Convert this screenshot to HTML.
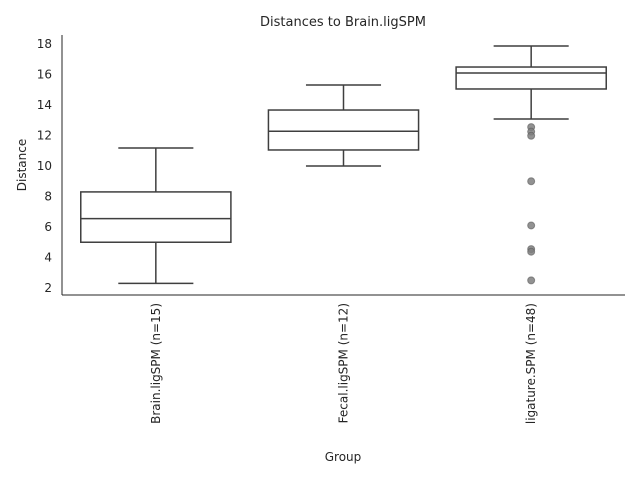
<!DOCTYPE html>
<html><head><meta charset="utf-8"><style>body{margin:0;background:#fff}svg{display:block;font-family:"DejaVu Sans","Liberation Sans",sans-serif}</style></head>
<body>
<svg id="chart" width="640" height="480" xmlns="http://www.w3.org/2000/svg"></svg>
<script>
const categories = ["Brain.ligSPM (n=15)", "Fecal.ligSPM (n=12)", "ligature.SPM (n=48)"];
const whiskerLow = [2.3, 10.0, 13.08];
const q1 = [5.0, 11.05, 15.05];
const median = [6.55, 12.28, 16.1];
const q3 = [8.3, 13.67, 16.49];
const whiskerHigh = [11.18, 15.31, 17.87];
const outliers = [[], [], [12.55, 12.25, 11.98, 9.0, 6.1, 4.55, 4.38, 2.5]];
const yTicks = [2, 4, 6, 8, 10, 12, 14, 16, 18];

const svg = document.getElementById('chart');
const NS = 'http://www.w3.org/2000/svg';
const pL = 62, pR = 625, pT = 35, pB = 295;
const yMin = 1.54, yMax = 18.59;
const y = v => pB - (v - yMin) / (yMax - yMin) * (pB - pT);
const band = (pR - pL) / categories.length;
const x = i => pL + band * (i + 0.5);
const boxW = band * 0.8;
function el(tag, attrs, text) {
  const e = document.createElementNS(NS, tag);
  for (const k in attrs) e.setAttribute(k, attrs[k]);
  if (text !== undefined) e.textContent = text;
  svg.appendChild(e);
  return e;
}
const c = '#3f3f3f';
let t = el('text', {x: 343, y: 26, 'text-anchor': 'middle', 'font-size': 13, fill: '#262626'}, 'Distances to Brain.ligSPM');


let a = el('line', {x1: pL, y1: pT, x2: pL, y2: pB, stroke: '#262626', 'stroke-width': 1});


a = el('line', {x1: pL, y1: pB, x2: pR, y2: pB, stroke: '#262626', 'stroke-width': 1});


yTicks.forEach(v => {
  const tk = el('text', {x: 52, y: y(v) + 4, 'text-anchor': 'end', 'font-size': 12, fill: '#262626'}, v);
  
  
});
t = el('text', {x: 0, y: 0, transform: 'translate(26,165) rotate(-90)', 'text-anchor': 'middle', 'font-size': 12, fill: '#262626'}, 'Distance');


t = el('text', {x: 343, y: 461, 'text-anchor': 'middle', 'font-size': 12, fill: '#262626'}, 'Group');


categories.forEach((cat, i) => {
  const cx = x(i);
  const lb = el('text', {x: 0, y: 0, transform: `translate(${cx + 4},303) rotate(-90)`, 'text-anchor': 'end', 'font-size': 12, fill: '#262626'}, cat);
  
  
  const w1 = el('line', {x1: cx, x2: cx, y1: y(whiskerLow[i]), y2: y(q1[i]), stroke: c, 'stroke-width': 1.5});
  
  
  const w2 = el('line', {x1: cx, x2: cx, y1: y(q3[i]), y2: y(whiskerHigh[i]), stroke: c, 'stroke-width': 1.5});
  
  
  const cap1 = el('line', {x1: cx - boxW / 4, x2: cx + boxW / 4, y1: y(whiskerLow[i]), y2: y(whiskerLow[i]), stroke: c, 'stroke-width': 1.5});
  
  
  const cap2 = el('line', {x1: cx - boxW / 4, x2: cx + boxW / 4, y1: y(whiskerHigh[i]), y2: y(whiskerHigh[i]), stroke: c, 'stroke-width': 1.5});
  
  
  const box = el('rect', {x: cx - boxW / 2, y: y(q3[i]), width: boxW, height: y(q1[i]) - y(q3[i]), fill: '#fff', stroke: c, 'stroke-width': 1.5});
  
  
  const md = el('line', {x1: cx - boxW / 2, x2: cx + boxW / 2, y1: y(median[i]), y2: y(median[i]), stroke: c, 'stroke-width': 1.5});
  
  
  outliers[i].forEach(v => {
    const p = el('circle', {cx: cx, cy: y(v), r: 3.5, fill: '#7f7f7f', 'fill-opacity': 0.85, stroke: '#5a5a5a', 'stroke-opacity': 0.6});
    
    
  });
});
</script>
</body></html>
